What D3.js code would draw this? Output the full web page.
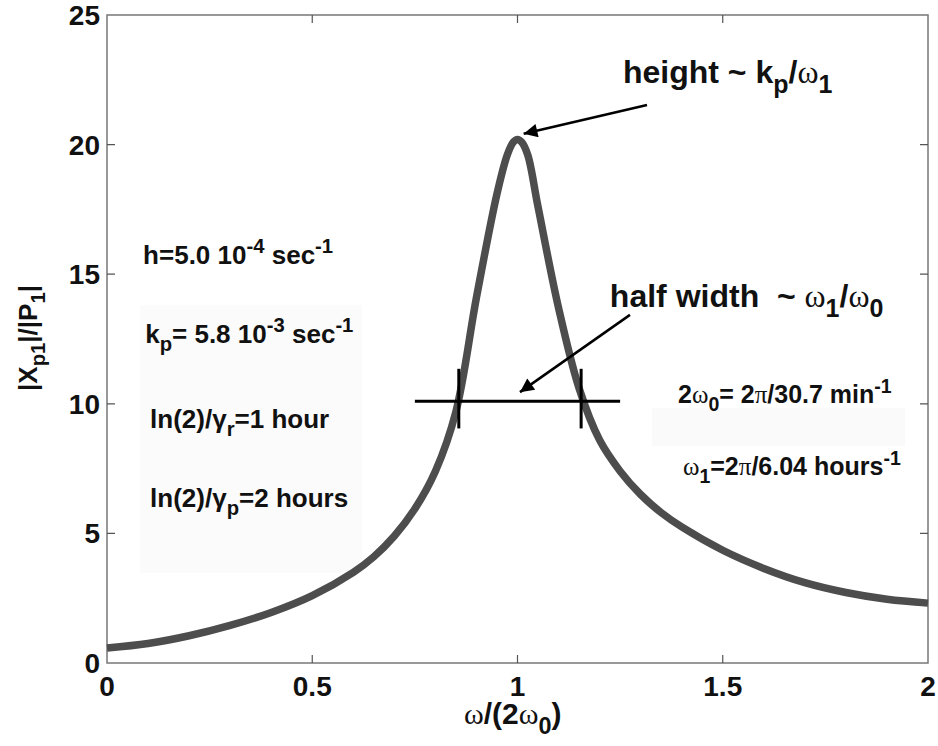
<!DOCTYPE html>
<html>
<head>
<meta charset="utf-8">
<script src="https://cdn.jsdelivr.net/npm/d3@7"></script>
<style>
body { margin: 0; background: #fff; }
text { font-family: "Liberation Sans", Arial, sans-serif; font-weight: bold; fill: #111; }
</style>
</head>
<body>
<script>
// response curve
const freq = [0, 0.1, 0.2, 0.3, 0.4, 0.5, 0.6, 0.65, 0.7, 0.75, 0.8, 0.85, 0.9, 0.95, 0.975, 0.99, 1.0, 1.01, 1.025, 1.05, 1.1, 1.15, 1.2, 1.25, 1.3, 1.35, 1.4, 1.5, 1.6, 1.7, 1.8, 1.9, 2.0];
const amp  = [0.58, 0.75, 1.05, 1.45, 1.95, 2.6, 3.5, 4.1, 4.9, 5.95, 7.4, 9.7, 14.1, 18.1, 19.6, 20.1, 20.2, 20.1, 19.6, 17.6, 13.7, 10.6, 8.6, 7.4, 6.5, 5.8, 5.25, 4.35, 3.65, 3.1, 2.72, 2.46, 2.31];

const xTicks = [0, 0.5, 1, 1.5, 2];
const yTicks = [0, 5, 10, 15, 20, 25];

// half width marker
const halfLevel = 10.1;
const halfSpan = [0.75, 1.25];
const halfMarks = [0.857, 1.155];

const width = 938, height = 746;
const margin = {left: 107, top: 15, right: 10, bottom: 83};

const x = d3.scaleLinear().domain([0, 2]).range([margin.left, width - margin.right]);
const y = d3.scaleLinear().domain([0, 25]).range([height - margin.bottom, margin.top]);

const svg = d3.select("body").append("svg")
    .attr("width", width)
    .attr("height", height);

// faint scan patches behind the parameter texts
svg.append("rect").attr("x", 140).attr("y", 305).attr("width", 222).attr("height", 268).attr("fill", "#fbfbfb");
svg.append("rect").attr("x", 652).attr("y", 408).attr("width", 253).attr("height", 38).attr("fill", "#fafafa");

// writes a label made of plain / sub / sup / symbol pieces
function rich(sel, parts, size) {
  let shift = 0;
  parts.forEach(([t, kind]) => {
    const small = kind.includes("sub") || kind.includes("sup");
    const target = kind.includes("sub") ? size * 0.32 : kind.includes("sup") ? -size * 0.42 : 0;
    const ts = sel.append("tspan")
        .attr("dy", target - shift)
        .attr("font-size", small ? size * 0.78 : size)
        .text(t);
    if (kind.includes("sym")) ts.attr("font-family", "'Liberation Serif', serif").attr("font-weight", "normal");
    shift = target;
  });
  return sel;
}

// frame and ticks (ticks inside, on all four sides)
const plot = svg.append("g");
plot.append("rect")
    .attr("x", x(0)).attr("y", y(25))
    .attr("width", x(2) - x(0)).attr("height", y(0) - y(25))
    .attr("fill", "none").attr("stroke", "#777").attr("stroke-width", 1.5);

const tickLen = 8;
plot.selectAll(".xt").data(xTicks.slice(1, -1)).enter().append("path")
    .attr("d", d => `M${x(d)},${y(0)}v${-tickLen}M${x(d)},${y(25)}v${tickLen}`)
    .attr("stroke", "#555").attr("stroke-width", 1.2);
plot.selectAll(".yt").data(yTicks.slice(1, -1)).enter().append("path")
    .attr("d", d => `M${x(0)},${y(d)}h${tickLen}M${x(2)},${y(d)}h${-tickLen}`)
    .attr("stroke", "#555").attr("stroke-width", 1.2);

svg.selectAll(".xl").data(xTicks).enter().append("text")
    .attr("x", d => x(d)).attr("y", y(0) + 33)
    .attr("text-anchor", "middle").attr("font-size", 28)
    .text(d => d3.format("")(d));
svg.selectAll(".yl").data(yTicks).enter().append("text")
    .attr("x", x(0) - 7).attr("y", d => y(d) + 10)
    .attr("text-anchor", "end").attr("font-size", 28)
    .text(d => d);

// axis titles
rich(svg.append("text").attr("x", 464).attr("y", 724), [["ω", "sym"], ["/(2", ""], ["ω", "sym"], ["0", "sub"], [")", ""]], 30);
rich(svg.append("text").attr("transform", "translate(37,338) rotate(-90)").attr("text-anchor", "middle"),
    [["|X", ""], ["p1", "sub"], ["|/|P", ""], ["1", "sub"], ["|", ""]], 26);

// curve
const line = d3.line()
    .x((d, i) => x(freq[i]))
    .y(d => y(d))
    .curve(d3.curveCatmullRom.alpha(0.5));
svg.append("path")
    .datum(amp)
    .attr("d", line)
    .attr("fill", "none")
    .attr("stroke", "#4d4d4d")
    .attr("stroke-width", 7.5)
    .attr("stroke-linejoin", "round");

// half width bar
svg.append("line")
    .attr("x1", x(halfSpan[0])).attr("x2", x(halfSpan[1]))
    .attr("y1", y(halfLevel)).attr("y2", y(halfLevel))
    .attr("stroke", "#000").attr("stroke-width", 3);
svg.selectAll(".hm").data(halfMarks).enter().append("line")
    .attr("x1", d => x(d)).attr("x2", d => x(d))
    .attr("y1", y(halfLevel + 1.25)).attr("y2", y(halfLevel - 1.05))
    .attr("stroke", "#000").attr("stroke-width", 3);

// arrows
svg.append("defs").append("marker")
    .attr("id", "head").attr("viewBox", "0 0 10 10")
    .attr("refX", 10).attr("refY", 5)
    .attr("markerWidth", 8).attr("markerHeight", 5.5).attr("markerUnits", "strokeWidth")
    .attr("orient", "auto")
    .append("path").attr("d", "M0,0L10,5L0,10Z").attr("fill", "#000");

const arrows = [
  {from: [1.3155, 21.53], to: [1.015, 20.42]},
  {from: [1.274, 13.43], to: [1.006, 10.45]}
];
svg.selectAll(".arr").data(arrows).enter().append("line")
    .attr("x1", d => x(d.from[0])).attr("y1", d => y(d.from[1]))
    .attr("x2", d => x(d.to[0])).attr("y2", d => y(d.to[1]))
    .attr("stroke", "#000").attr("stroke-width", 2.5)
    .attr("marker-end", "url(#head)");

// annotations
rich(svg.append("text").attr("x", x(1.257)).attr("y", y(22.38)),
    [["height ~ k", ""], ["p", "sub"], ["/", ""], ["ω", "sym"], ["1", "sub"]], 32);
rich(svg.append("text").attr("x", x(1.225)).attr("y", y(13.73)),
    [["half width \u00a0~ ", ""], ["ω", "sym"], ["1", "sub"], ["/", ""], ["ω", "sym"], ["0", "sub"]], 32);

rich(svg.append("text").attr("x", x(0.088)).attr("y", y(15.39)),
    [["h=5.0 10", ""], ["-4", "sup"], [" sec", ""], ["-1", "sup"]], 26);
rich(svg.append("text").attr("x", x(0.093)).attr("y", y(12.35)),
    [["k", ""], ["p", "sub"], ["= 5.8 10", ""], ["-3", "sup"], [" sec", ""], ["-1", "sup"]], 26);
rich(svg.append("text").attr("x", x(0.105)).attr("y", y(9.07)),
    [["ln(2)/γ", ""], ["r", "sub"], ["=1 hour", ""]], 26);
rich(svg.append("text").attr("x", x(0.105)).attr("y", y(6.02)),
    [["ln(2)/γ", ""], ["p", "sub"], ["=2 hours", ""]], 26);

rich(svg.append("text").attr("x", x(1.391)).attr("y", y(10.03)),
    [["2", ""], ["ω", "sym"], ["0", "sub"], ["= 2", ""], ["π", "sym"], ["/30.7 min", ""], ["-1", "sup"]], 25);
rich(svg.append("text").attr("x", x(1.403)).attr("y", y(7.25)),
    [["ω", "sym"], ["1", "sub"], ["=2", ""], ["π", "sym"], ["/6.04 hours", ""], ["-1", "sup"]], 25);
</script>
</body>
</html>
